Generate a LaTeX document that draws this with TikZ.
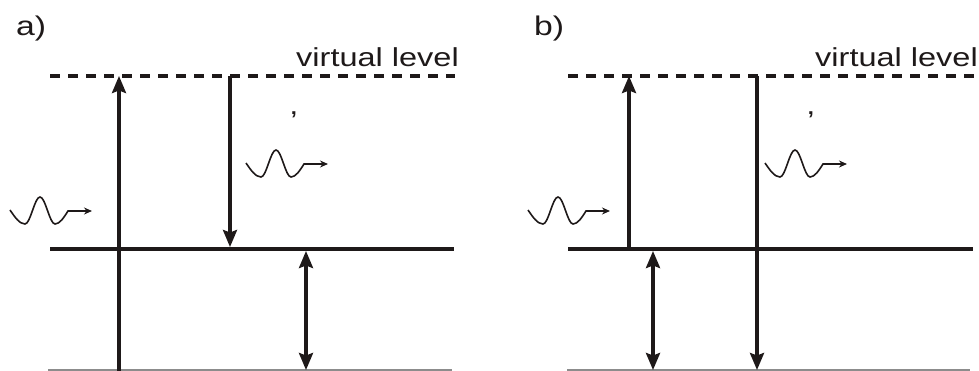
\documentclass[tikz,border=0pt]{standalone}
\usepackage{fontspec}
\setmainfont{Liberation Sans}
\newfontfamily\labfont[FakeStretch=1.25]{Liberation Sans}
\usetikzlibrary{arrows.meta}
\definecolor{levelgray}{RGB}{140,140,140}
\definecolor{ink}{RGB}{30,25,25}
\begin{document}
\begin{tikzpicture}[x=1pt,y=-1pt, color=ink,
  lvl/.style={line width=4.5pt},
  vlvl/.style={line width=3.8pt, dash pattern=on 9.5pt off 8.5pt},
  glvl/.style={line width=1.6pt, draw=levelgray},
  arr/.style={line width=3.3pt,-{Stealth[length=17pt,width=14pt,inset=2.5pt]}},
  darr/.style={line width=3.3pt,{Stealth[length=17pt,width=14pt,inset=2.5pt]}-{Stealth[length=17pt,width=14pt,inset=2.5pt]}},
  lab/.style={inner sep=0pt, text=ink, font={\labfont\fontsize{27pt}{30pt}\selectfont}},
  txt/.style={inner sep=0pt, text=ink, font={\labfont\fontsize{26pt}{30pt}\selectfont}},
  photon/.pic={\draw[line width=1.6pt,-{Stealth[length=8pt,width=7pt]}]
     (0,0) sin (15,14) cos (22.5,0.5) sin (30,-13) cos (37.5,0.5) sin (45,14) cos (58,1) -- (82,1);}
]
\useasboundingbox (0,0) rectangle (979,371);

% ---------- panel a ----------
\node[lab, anchor=base west] (la) at (16,36) {a)};
\node[txt, anchor=base east] (vla) at (459,67) {virtual level};
\node[txt, anchor=base] (ca) at (294,115) {,};

\coordinate (aVl) at (50,76);  \coordinate (aVr) at (455,76);
\coordinate (aGl) at (50,249); \coordinate (aGr) at (454,249);
\coordinate (aBl) at (48,370); \coordinate (aBr) at (452,370);
\draw[vlvl] (aVl) -- (aVr);
\draw[lvl] (aGl) -- (aGr);
\draw[glvl] (aBl) -- (aBr);

\coordinate (aUp0) at (119,371); \coordinate (aUp1) at (119,76);
\coordinate (aDn0) at (230,76);  \coordinate (aDn1) at (230,247);
\coordinate (aDb0) at (306,251); \coordinate (aDb1) at (306,370);
\draw[arr] (aUp0) -- (aUp1);
\draw[arr] (aDn0) -- (aDn1);
\draw[darr] (aDb0) -- (aDb1);

\pic at (10,210) {photon};
\pic at (246,163) {photon};

% ---------- panel b ----------
\node[lab, anchor=base west] (lb) at (534,36) {b)};
\node[txt, anchor=base east] (vlb) at (978,67) {virtual level};
\node[txt, anchor=base] (cb) at (811,115) {,};

\coordinate (bVl) at (568,76);  \coordinate (bVr) at (979,76);
\coordinate (bGl) at (568,249); \coordinate (bGr) at (973,249);
\coordinate (bBl) at (567,370); \coordinate (bBr) at (970,370);
\draw[vlvl] (bVl) -- (bVr);
\draw[lvl] (bGl) -- (bGr);
\draw[glvl] (bBl) -- (bBr);

\coordinate (bUp0) at (629,249); \coordinate (bUp1) at (629,76);
\coordinate (bDn0) at (757,76);  \coordinate (bDn1) at (757,370);
\coordinate (bDb0) at (653,251); \coordinate (bDb1) at (653,370);
\draw[arr] (bUp0) -- (bUp1);
\draw[arr] (bDn0) -- (bDn1);
\draw[darr] (bDb0) -- (bDb1);

\pic at (528,210) {photon};
\pic at (765,163) {photon};
\end{tikzpicture}
\end{document}
